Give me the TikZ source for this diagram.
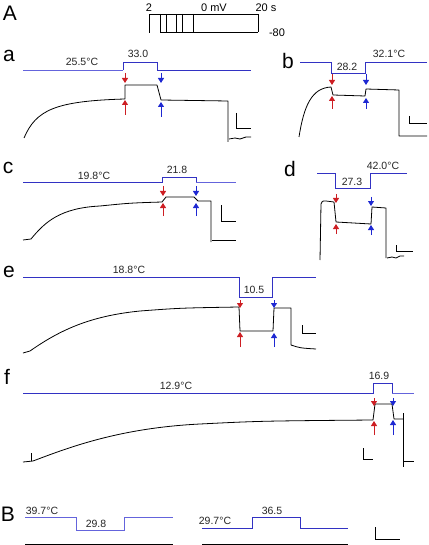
\documentclass[tikz,border=0pt]{standalone}
\usepackage{fontspec}
\setmainfont{Liberation Sans}
\usetikzlibrary{arrows.meta}
\definecolor{tblue}{RGB}{50,50,195}
\definecolor{tblue2}{RGB}{100,100,220}
\definecolor{ared}{RGB}{205,30,35}
\definecolor{ablue}{RGB}{30,40,210}
\tikzset{
  trace/.style={black, line width=0.8pt, line join=round},
  temp/.style={tblue, line width=0.9pt},
  temp2/.style={tblue2, line width=0.9pt},
  prot/.style={black, line width=0.8pt},
  sbar/.style={black, line width=0.8pt},
  rarr/.style={ared, line width=1pt, -{Triangle[width=6pt,length=5pt]}},
  barr/.style={ablue, line width=1pt, -{Triangle[width=6pt,length=5pt]}},
  lab/.style={font=\fontsize{21}{21}\selectfont, inner sep=0pt},
  tlab/.style={font=\fontsize{10.5}{11}\selectfont, inner sep=0pt, text=black!85},
  plab/.style={font=\fontsize{11}{12}\selectfont, inner sep=0pt}
}
\begin{document}
\begin{tikzpicture}[x=1pt,y=-1pt]
\useasboundingbox (0,0) rectangle (428,545);
% ---------------- A protocol
\node[lab] (LA) at (10,13) {A};
\draw[prot] (149,33) -- (149,14) -- (258,14) -- (258,32);
\draw[prot] (160,14) -- (160,32) -- (258,32);
\foreach \xx in {166,176,182,193} \draw[prot] (\xx,14) -- (\xx,32);
\node[plab] (p2) at (149,8) {2};
\node[plab] (p0) at (214,8) {0 mV};
\node[plab] (p20) at (266,8) {20 s};
\node[plab] (p80) at (277,33) {-80};
% ---------------- a
\node[lab] (La) at (9,56) {a};
\draw[temp2] (23,70) -- (123,70);
\draw[temp] (123,70) -- (123,62) -- (157,62) -- (157,70) -- (251,70);
\node[tlab] (ta1) at (82,62) {25.5°C};
\node[tlab] (ta2) at (138,54) {33.0};
\draw[trace] (24,138) .. controls (36,110) and (55,101) .. (125,99) -- (125,85) -- (157,85) -- (161,100) -- (228,101) -- (228,142);
\draw[trace] (229,139) -- (235,138) -- (240,139) -- (246,137) -- (251,137);
\draw[sbar] (236,113) -- (236,128) -- (251,128);
\draw[rarr] (125,73) -- (125,83);
\draw[rarr] (125,115) -- (125,100);
\draw[barr] (161,73) -- (161,83);
\draw[barr] (161,117) -- (161,102);
% ---------------- b
\node[lab] (Lb) at (288,61) {b};
\draw[temp] (300,62) -- (331,62) -- (331,73) -- (365,73) -- (365,62) -- (427,62);
\node[tlab] (tb1) at (389,54) {32.1°C};
\node[tlab] (tb2) at (347,67) {28.2};
\draw[trace] (299,137) .. controls (304,105) and (312,88) .. (331,87) -- (333,95) -- (365,96) -- (366,89) -- (399,90) -- (399,136) -- (427,136);
\draw[sbar] (409,116) -- (409,123) -- (427,123);
\draw[rarr] (332,74) -- (332,85);
\draw[rarr] (332,109) -- (332,96);
\draw[barr] (366,74) -- (366,85);
\draw[barr] (366,109) -- (366,98);
% ---------------- c
\node[lab] (Lc) at (8,168) {c};
\draw[temp] (23,182) -- (162,182) -- (162,177) -- (196,177) -- (196,182);
\draw[temp2] (196,182) -- (236,182);
\node[tlab] (tc1) at (94,176) {19.8°C};
\node[tlab] (tc2) at (177,170) {21.8};
\draw[trace] (23,240) -- (31,239) .. controls (45,222) and (60,208) .. (100,206) .. controls (130,203) .. (162,202) -- (166,197) -- (194,197) -- (198,201) -- (211,201) -- (211,242);
\draw[trace] (212,240) -- (236,240);
\draw[sbar] (221,205) -- (221,221) -- (236,221);
\draw[rarr] (163,186) -- (163,196);
\draw[rarr] (163,216) -- (163,203);
\draw[barr] (196,186) -- (196,196);
\draw[barr] (196,216) -- (196,203);
% ---------------- d
\node[lab] (Ld) at (290,169) {d};
\draw[temp] (317,173) -- (335,173) -- (335,188) -- (370,188) -- (370,173) -- (407,173);
\node[tlab] (td1) at (383,166) {42.0°C};
\node[tlab] (td2) at (352,182) {27.3};
\draw[trace] (320,260) -- (321,204) .. controls (322,201) .. (326,201) -- (334,202) -- (336,222) -- (371,224) -- (372,207) -- (386,208) -- (386,258);
\draw[trace] (387,258) -- (392,257) -- (396,258) -- (400,256) -- (404,256);
\draw[sbar] (396,245) -- (396,251) -- (413,251);
\draw[rarr] (336,194) -- (336,203);
\draw[rarr] (336,234) -- (336,224);
\draw[barr] (371,197) -- (371,206);
\draw[barr] (371,235) -- (371,225);
% ---------------- e
\node[lab] (Le) at (9,272) {e};
\draw[temp] (23,277) -- (239,277) -- (239,297) -- (272,297) -- (272,277) -- (316,277);
\node[tlab] (te1) at (129,270) {18.8°C};
\node[tlab] (te2) at (254,290) {10.5};
\draw[trace] (23,353) -- (30,351) .. controls (60,330) and (90,316) .. (140,311) .. controls (180,308) .. (239,307) -- (240,331) -- (273,331) -- (274,308) -- (291,308) -- (291,345) .. controls (300,348) .. (316,349);
\draw[sbar] (302,325) -- (302,333) -- (316,333);
\draw[rarr] (240,300) -- (240,308);
\draw[rarr] (240,347) -- (240,332);
\draw[barr] (274,300) -- (274,308);
\draw[barr] (274,347) -- (274,333);
% ---------------- f
\node[lab] (Lf) at (7,377) {f};
\draw[temp] (23,393) -- (373,393) -- (373,383) -- (392,383) -- (392,393);
\draw[temp2] (392,393) -- (414,393);
\node[tlab] (tf1) at (176,386) {12.9°C};
\node[tlab] (tf2) at (379,376) {16.9};
\draw[trace] (23,462) -- (33,461) .. controls (70,447) and (120,428) .. (200,424) .. controls (260,421) .. (373,420) -- (375,404) -- (392,404) -- (394,419) -- (403,419);
\draw[trace] (31,461) -- (31,453);
\draw[trace] (403,413) -- (403,467);
\draw[trace] (403,461) -- (414,461);
\draw[sbar] (363,448) -- (363,459) -- (373,459);
\draw[rarr] (374,398) -- (374,406);
\draw[rarr] (374,435) -- (374,421);
\draw[barr] (393,398) -- (393,406);
\draw[barr] (393,435) -- (393,420);
% ---------------- B
\node[lab] (LB) at (8,514) {B};
\draw[temp2] (25,517) -- (76,517) -- (76,530) -- (124,530) -- (124,517) -- (173,517);
\node[tlab] (tB1) at (42,511) {39.7°C};
\node[tlab] (tB2) at (96,524) {29.8};
\draw[trace, line width=0.6pt] (25,544.2) -- (173,544.2);
\draw[temp] (202,528) -- (252,528) -- (252,517) -- (300,517) -- (300,528) -- (348,528);
\node[tlab] (tB3) at (215,521) {29.7°C};
\node[tlab] (tB4) at (272,511) {36.5};
\draw[trace, line width=0.6pt] (202,544.2) -- (348,544.2);
\draw[sbar] (375,527) -- (375,539) -- (400,539);
\end{tikzpicture}
\end{document}
